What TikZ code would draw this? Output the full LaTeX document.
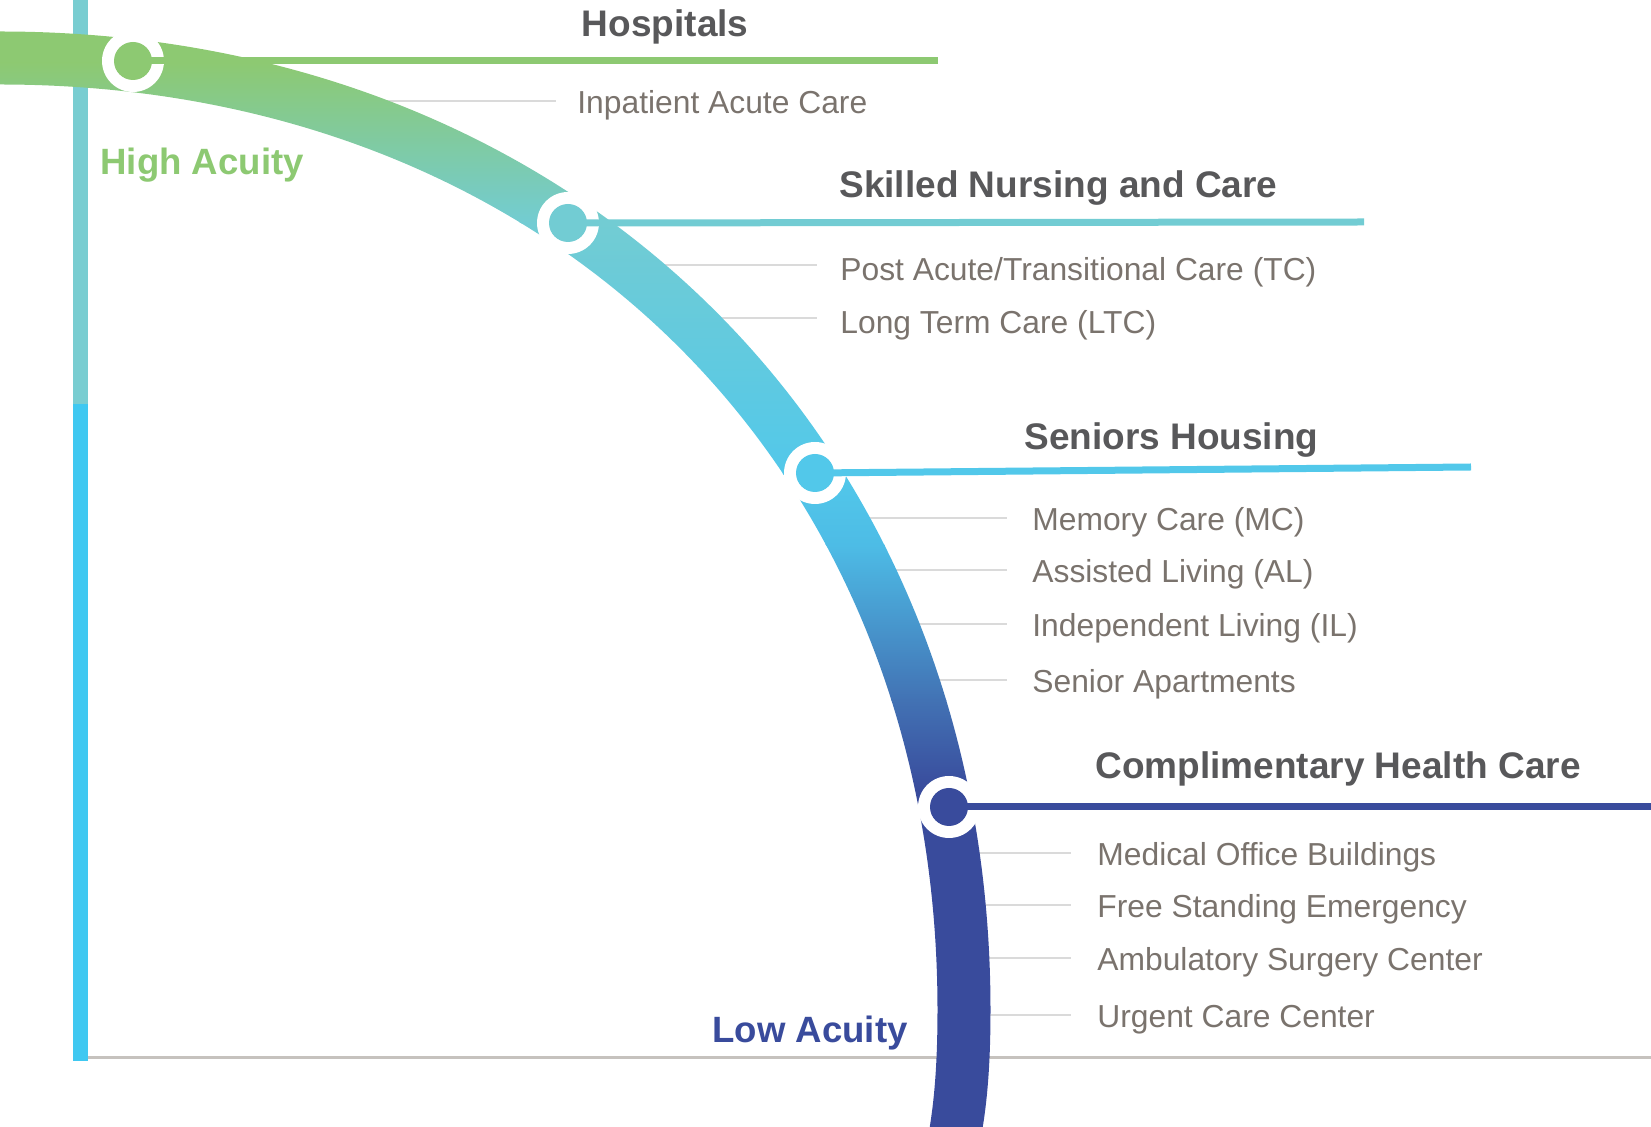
\documentclass[tikz,border=0pt]{standalone}
\usepackage{fontspec}
\setmainfont{Liberation Sans}
\definecolor{hospgreen}{HTML}{8DC972}
\definecolor{snfteal}{HTML}{72CCD3}
\definecolor{shcyan}{HTML}{52C8EA}
\definecolor{shmid}{HTML}{4DBCE6}
\definecolor{chcmid}{HTML}{4272B4}
\definecolor{chcblue}{HTML}{394B9C}
\definecolor{headgray}{HTML}{58585A}
\definecolor{itemgray}{HTML}{7A736D}
\definecolor{rulegray}{HTML}{DADADA}
\definecolor{axisgray}{HTML}{C6C2BE}
\definecolor{barteal}{HTML}{79CDD1}
\definecolor{barcyan}{HTML}{3FC8F1}

\begin{document}
\begin{tikzpicture}[x=0.5pt, y=-0.5pt,
    headtext/.style={anchor=base west, inner sep=0pt, text=headgray, font=\fontsize{18.5pt}{22pt}\selectfont\bfseries},
    itemtext/.style={anchor=west, inner ysep=0pt, inner xsep=11.5pt, text height=12.5pt, text depth=0pt, text=itemgray, font=\fontsize{15.9pt}{19pt}\selectfont},
    acuitytext/.style={anchor=base west, inner sep=0pt, font=\fontsize{18.3pt}{22pt}\selectfont\bfseries},
    ringnode/.style={circle, fill=white, minimum size=31pt, inner sep=0pt},
    dotnode/.style={circle, minimum size=19pt, inner sep=0pt},
    hdline/.style={line width=3.5pt},
    subline/.style={rulegray, line width=0.75pt}]
      \useasboundingbox (0,0) rectangle (1651,1127);
      \clip (0,0) rectangle (1651,1127);

      \fill[axisgray] (88,1056.5) rectangle (1651,1059.5);
      \fill[barteal] (73,-5) rectangle (88,404);
      \fill[barcyan] (73,404) rectangle (88,1061);

      \node[itemtext, inner xsep=10.5pt] (ia) at (556,101) {Inpatient Acute Care};
      \node[itemtext, text height=15.5pt] (tc) at (817,265) {Post Acute/Transitional Care (TC)};
      \node[itemtext, text height=15.5pt] (ltc) at (817,318) {Long Term Care (LTC)};
      \node[itemtext, inner xsep=12.5pt] (mc) at (1007,518) {Memory Care (MC)};
      \node[itemtext, inner xsep=12.5pt] (al) at (1007,570) {Assisted Living (AL)};
      \node[itemtext, inner xsep=12.5pt] (il) at (1007,624) {Independent Living (IL)};
      \node[itemtext, inner xsep=12.5pt] (sa) at (1007,680) {Senior Apartments};
      \node[itemtext, inner xsep=13pt] (mob) at (1071,853) {Medical Office Buildings};
      \node[itemtext, inner xsep=13pt] (fse) at (1071,905) {Free Standing Emergency};
      \node[itemtext, inner xsep=13pt] (asc) at (1071,958) {Ambulatory Surgery Center};
      \node[itemtext, inner xsep=13pt] (ucc) at (1071,1015) {Urgent Care Center};

      \coordinate (ia-s) at (300,101);
      \coordinate (tc-s) at (612,265);
      \coordinate (ltc-s) at (670,318);
      \coordinate (mc-s) at (836,518);
      \coordinate (al-s) at (862,570);
      \coordinate (il-s) at (885,624);
      \coordinate (sa-s) at (910,680);
      \coordinate (mob-s) at (950,853);
      \coordinate (fse-s) at (956,905);
      \coordinate (asc-s) at (960,958);
      \coordinate (ucc-s) at (962,1015);
      \foreach \i in {ia,tc,ltc,mc,al,il,sa,mob,fse,asc,ucc}
        \draw[subline] (\i-s) -- (\i.west);

      \begin{scope}
        \clip (-30,31.5) -- (0,31.5) .. controls (573,31.5) and (990.5,437) .. (990.5,1010)
          .. controls (990.5,1070) and (986.5,1110) .. (979.5,1145) -- (926.5,1145)
          .. controls (933.5,1110) and (937.5,1070) .. (937.5,1010)
          .. controls (937.5,463) and (547,84.5) .. (0,84.5) -- (-30,84.5) -- cycle;
        \fill[hospgreen] (-30,0) rectangle (1100,64);
        \shade[top color=hospgreen, bottom color=snfteal] (-30,63) rectangle (1100,224);
        \shade[top color=snfteal, bottom color=shcyan] (-30,223) rectangle (1100,475);
        \shade[top color=shcyan, bottom color=shmid] (-30,474) rectangle (1100,546);
        \shade[top color=shmid, bottom color=chcmid] (-30,545) rectangle (1100,701);
        \shade[top color=chcmid, bottom color=chcblue] (-30,700) rectangle (1100,791);
        \fill[chcblue] (-30,790) rectangle (1100,1150);
      \end{scope}

      \node[ringnode] (hosp) at (133,61) {};
      \node[ringnode] (snf) at (568,223) {};
      \node[ringnode] (sh) at (815,473) {};
      \node[ringnode] (chc) at (949,807) {};
      \coordinate (hosp-e) at (938,61);
      \coordinate (snf-e) at (1364,222);
      \coordinate (sh-e) at (1471,467);
      \coordinate (chc-e) at (1651,807);
      \draw[hdline, hospgreen] (hosp.center) -- (hosp-e);
      \draw[hdline, snfteal] (snf.center) -- (snf-e);
      \draw[hdline, shcyan] (sh.center) -- (sh-e);
      \draw[hdline, chcblue] (chc.center) -- (chc-e);
      \node[dotnode, fill=hospgreen] (hosp-d) at (hosp) {};
      \node[dotnode, fill=snfteal] (snf-d) at (snf) {};
      \node[dotnode, fill=shcyan] (sh-d) at (sh) {};
      \node[dotnode, fill=chcblue] (chc-d) at (chc) {};

      \node[headtext] (hosp-t) at (581.5,37) {Hospitals};
      \node[headtext] (snf-t) at (839,198) {Skilled Nursing and Care};
      \node[headtext] (sh-t) at (1024,450) {Seniors Housing};
      \node[headtext] (chc-t) at (1095,779) {Complimentary Health Care};
      \node[acuitytext, text=hospgreen] (high) at (100,175) {High Acuity};
      \node[acuitytext, text=chcblue] (low) at (712,1043) {Low Acuity};
    \end{tikzpicture}
\end{document}
